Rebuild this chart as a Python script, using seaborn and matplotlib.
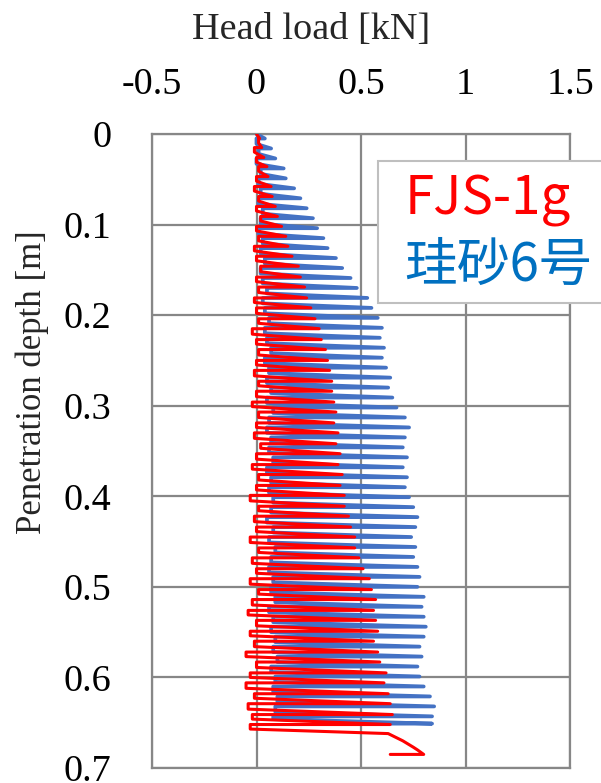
import matplotlib
matplotlib.use('Agg')
import matplotlib.pyplot as plt
import seaborn as sns
import pandas as pd
from matplotlib.lines import Line2D

# ---------------- data ----------------
series_names = ['FJS-1g', '珪砂6号']
x_ticks = [-0.5, 0, 0.5, 1, 1.5]
x_tick_labels = ['-0.5', '0', '0.5', '1', '1.5']
y_ticks = [0, 0.1, 0.2, 0.3, 0.4, 0.5, 0.6, 0.7]
y_tick_labels = ['0', '0.1', '0.2', '0.3', '0.4', '0.5', '0.6', '0.7']

# FJS-1g, one entry per load cycle:
# depth where loading starts [m], depth where unloading happens [m],
# peak load [kN], load level before loading [kN]
red_load_depth = [0.000, 0.010, 0.020, 0.031, 0.041, 0.052, 0.063, 0.074, 0.085, 0.096,
                  0.107, 0.118, 0.129, 0.140, 0.152, 0.163, 0.175, 0.186, 0.198, 0.209,
                  0.221, 0.232, 0.244, 0.255, 0.267, 0.278, 0.290, 0.301, 0.313, 0.324,
                  0.336, 0.347, 0.359, 0.370, 0.382, 0.393, 0.405, 0.416, 0.428, 0.439,
                  0.451, 0.462, 0.474, 0.485, 0.497, 0.508, 0.520, 0.531, 0.543, 0.554,
                  0.566, 0.577, 0.589, 0.600, 0.612, 0.623, 0.635, 0.646, 0.657]
red_unload_depth = [0.005, 0.015, 0.026, 0.036, 0.047, 0.058, 0.069, 0.080, 0.091, 0.102,
                    0.113, 0.124, 0.135, 0.146, 0.158, 0.169, 0.181, 0.192, 0.204, 0.215,
                    0.227, 0.238, 0.250, 0.261, 0.273, 0.284, 0.296, 0.307, 0.319, 0.330,
                    0.342, 0.353, 0.365, 0.376, 0.388, 0.399, 0.411, 0.422, 0.434, 0.445,
                    0.457, 0.468, 0.480, 0.491, 0.503, 0.514, 0.526, 0.537, 0.549, 0.560,
                    0.572, 0.583, 0.595, 0.606, 0.618, 0.629, 0.641, 0.652, 0.662]
red_peak = [0.015, 0.025, 0.035, 0.05, 0.055, 0.07, 0.075, 0.09, 0.10, 0.12,
            0.14, 0.15, 0.17, 0.20, 0.21, 0.23, 0.24, 0.26, 0.28, 0.30,
            0.31, 0.33, 0.34, 0.35, 0.36, 0.36, 0.37, 0.38, 0.37, 0.39,
            0.38, 0.40, 0.39, 0.41, 0.40, 0.42, 0.42, 0.44, 0.45, 0.47,
            0.47, 0.49, 0.51, 0.54, 0.55, 0.57, 0.56, 0.57, 0.58, 0.56,
            0.58, 0.59, 0.62, 0.61, 0.63, 0.64, 0.65, 0.64, 0.63]
red_trough = [0.00, 0.01, -0.01, 0.00, 0.01, 0.00, -0.01, 0.01, 0.00, 0.02,
              0.00, 0.01, -0.01, 0.00, 0.02, 0.00, 0.01, -0.01, 0.00, 0.01,
              -0.02, 0.00, 0.01, 0.00, -0.01, 0.01, 0.00, -0.02, 0.01, 0.00,
              -0.01, 0.02, 0.00, -0.02, 0.01, 0.00, -0.03, 0.01, -0.01, 0.00,
              -0.03, 0.01, -0.02, 0.00, -0.03, 0.01, -0.02, -0.04, 0.00, -0.03,
              -0.01, -0.05, 0.00, -0.03, -0.05, -0.01, -0.04, -0.02, -0.03]
# final push at the end of the FJS-1g test
red_tail_load = [0.70, 0.75, 0.77, 0.80, 0.64]
red_tail_depth = [0.670, 0.677, 0.680, 0.685, 0.685]

# 珪砂6号
blue_load_depth = [0.000, 0.011, 0.022, 0.033, 0.044, 0.055, 0.066, 0.077, 0.088, 0.099,
                   0.110, 0.121, 0.132, 0.143, 0.154, 0.165, 0.176, 0.187, 0.198, 0.209,
                   0.220, 0.231, 0.242, 0.253, 0.264, 0.275, 0.286, 0.297, 0.308, 0.319,
                   0.330, 0.341, 0.352, 0.363, 0.374, 0.385, 0.396, 0.407, 0.418, 0.429,
                   0.440, 0.451, 0.462, 0.473, 0.484, 0.495, 0.506, 0.517, 0.528, 0.539,
                   0.550, 0.561, 0.572, 0.583, 0.594, 0.605, 0.616, 0.627, 0.638, 0.646]
blue_unload_depth = [0.005, 0.016, 0.027, 0.038, 0.049, 0.060, 0.071, 0.082, 0.093, 0.104,
                     0.115, 0.126, 0.137, 0.148, 0.159, 0.170, 0.181, 0.192, 0.203, 0.214,
                     0.225, 0.236, 0.247, 0.258, 0.269, 0.280, 0.291, 0.302, 0.313, 0.324,
                     0.335, 0.346, 0.357, 0.368, 0.379, 0.390, 0.401, 0.412, 0.423, 0.434,
                     0.445, 0.456, 0.467, 0.478, 0.489, 0.500, 0.511, 0.522, 0.533, 0.544,
                     0.555, 0.566, 0.577, 0.588, 0.599, 0.610, 0.621, 0.632, 0.643, 0.651]
blue_peak = [0.04, 0.07, 0.09, 0.13, 0.14, 0.18, 0.21, 0.24, 0.27, 0.29,
             0.32, 0.34, 0.38, 0.41, 0.45, 0.48, 0.53, 0.55, 0.58, 0.60,
             0.59, 0.61, 0.60, 0.62, 0.64, 0.63, 0.65, 0.67, 0.71, 0.73,
             0.71, 0.70, 0.72, 0.70, 0.72, 0.71, 0.73, 0.75, 0.77, 0.76,
             0.74, 0.76, 0.75, 0.77, 0.78, 0.77, 0.80, 0.79, 0.80, 0.81,
             0.80, 0.78, 0.79, 0.77, 0.78, 0.80, 0.83, 0.85, 0.84, 0.84]
blue_trough = [0.00, 0.00, 0.01, 0.00, 0.02, 0.01, 0.02, 0.01, 0.03, 0.02,
               0.01, 0.03, 0.02, 0.04, 0.02, 0.03, 0.05, 0.03, 0.04, 0.06,
               0.04, 0.05, 0.07, 0.04, 0.06, 0.05, 0.07, 0.05, 0.08, 0.06,
               0.05, 0.07, 0.06, 0.08, 0.05, 0.07, 0.06, 0.08, 0.07, 0.05,
               0.08, 0.06, 0.09, 0.07, 0.06, 0.08, 0.07, 0.09, 0.06, 0.08,
               0.07, 0.09, 0.08, 0.10, 0.07, 0.09, 0.08, 0.10, 0.09, 0.08]
blue_tail_load = [0.60]
blue_tail_depth = [0.651]


def build_path(load_depth, unload_depth, peak, trough, tail_load, tail_depth):
    """Ordered (load, depth) record: loading from the trough while the pile
    penetrates up to the peak, then unloading back to the next cycle's level."""
    load, dep = [], []
    n = len(load_depth)
    for i in range(n):
        load += [trough[i], peak[i]]
        dep += [load_depth[i], unload_depth[i]]
        if i < n - 1:
            load.append(trough[i + 1])
            dep.append(unload_depth[i])
    load += list(tail_load)
    dep += list(tail_depth)
    return pd.DataFrame({'load': load, 'depth': dep})


df_red = build_path(red_load_depth, red_unload_depth, red_peak, red_trough,
                    red_tail_load, red_tail_depth)
df_blue = build_path(blue_load_depth, blue_unload_depth, blue_peak, blue_trough,
                     blue_tail_load, blue_tail_depth)

# ---------------- figure ----------------
sns.set_theme(style='white')
plt.rcParams['font.family'] = ['Liberation Serif', 'DejaVu Serif']

fig = plt.figure(figsize=(6.01, 7.83), dpi=100)
ax = fig.add_axes([152 / 601, 15 / 783, 418 / 601, 634 / 783])

sns.lineplot(data=df_blue, x='load', y='depth', sort=False, estimator=None,
             color='#4472C4', lw=2.7, ax=ax, zorder=3)
sns.lineplot(data=df_red, x='load', y='depth', sort=False, estimator=None,
             color='#FF0000', lw=2.2, ax=ax, zorder=4)

ax.set_xlim(-0.5, 1.5)
ax.set_ylim(0.7, 0)
ax.xaxis.tick_top()
ax.xaxis.set_label_position('top')
ax.set_xticks(x_ticks)
ax.set_xticklabels(x_tick_labels)
ax.set_yticks(y_ticks)
ax.set_yticklabels(y_tick_labels)
ax.tick_params(axis='both', length=0, labelsize=27.5, colors='black')
ax.tick_params(axis='x', pad=23)
ax.tick_params(axis='y', pad=29)

ax.grid(True, color='#878787', lw=1.6)
ax.set_axisbelow(True)
for s in ax.spines.values():
    s.set_color('#878787')
    s.set_linewidth(1.6)

ax.set_xlabel('Head load [kN]', fontsize=27.5)
ax.xaxis.label.set_va('center')
ax.xaxis.set_label_coords(0.38, (768 - 30) / 634)
ax.set_ylabel('Penetration depth [m]', fontsize=25)
ax.yaxis.label.set_va('center')
ax.yaxis.set_label_coords((32 - 152) / 418, (768 - 382) / 634)

handles = [Line2D([], [], color='none'), Line2D([], [], color='none')]
leg = fig.legend(handles, series_names, loc='upper left',
                 bbox_to_anchor=(378 / 601, 1 - 161 / 783), borderaxespad=0,
                 handlelength=0, handletextpad=0.3, frameon=True, fancybox=False,
                 edgecolor='#BFBFBF', framealpha=1, borderpad=0.2, labelspacing=0.2,
                 prop={'family': ['Noto Sans CJK JP', 'DejaVu Sans'], 'size': 38})
leg.get_frame().set_linewidth(1.5)
for t, c in zip(leg.get_texts(), ['#FF0000', '#0070C0']):
    t.set_color(c)

fig.savefig('out.png', dpi=100)
